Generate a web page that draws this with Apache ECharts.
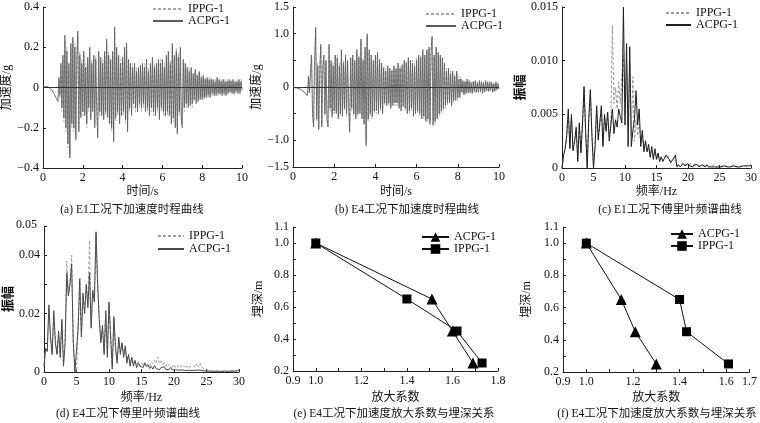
<!DOCTYPE html>
<html><head><meta charset="utf-8">
<script src="https://cdn.jsdelivr.net/npm/echarts@6/dist/echarts.min.js"></script>
<style>html,body{margin:0;padding:0;background:#fff}#c{width:760px;height:423px}</style>
</head><body><div id="c"></div>
<script>
// ---------- data ----------
const timeStep = 0.05;   // s
const freqStep = 0.25;   // Hz
const seriesNames = ['IPPG-1', 'ACPG-1'];

// (a) E1 acceleration time history (g)
const E1_ACPG = [0,0.003,0.005,0.006,0.005,0.003,0.001,-0.002,-0.006,-0.012,-0.02,-0.03,-0.04,-0.05,-0.06,
-0.07,0.05,-0.04,0.12,-0.1,
0.16,-0.15,0.26,-0.2,0.18,-0.28,0.12,-0.35,0.22,-0.18,
0.25,-0.2,0.2,-0.26,0.15,0.28,-0.22,0.16,-0.15,0.12,
-0.12,0.18,-0.14,0.1,-0.18,0.15,-0.1,0.2,-0.16,0.12,
-0.12,0.16,-0.2,0.14,-0.1,-0.25,0.18,-0.12,0.15,-0.14,
0.12,-0.16,0.18,-0.12,0.24,-0.15,0.16,-0.18,0.14,-0.2,
0.18,-0.27,0.3,-0.15,0.2,-0.12,0.16,-0.18,0.12,-0.14,
0.15,-0.12,0.2,-0.16,0.22,-0.22,0.14,-0.1,0.12,-0.14,
0.1,-0.08,0.12,-0.1,0.08,-0.12,0.1,-0.08,0.11,-0.1,
0.12,-0.08,0.1,-0.12,0.14,-0.1,0.08,-0.14,0.12,-0.1,
0.15,-0.12,0.1,-0.14,0.12,-0.1,0.14,-0.16,0.12,-0.1,
0.14,-0.12,0.1,-0.14,0.16,-0.12,0.18,-0.14,0.12,-0.18,
0.22,-0.15,0.16,-0.2,0.18,-0.23,0.15,-0.12,0.2,-0.16,
-0.2,0.14,-0.1,0.12,-0.08,0.1,-0.1,0.08,-0.09,0.1,
-0.08,0.07,-0.06,0.09,-0.08,0.06,-0.07,0.08,-0.06,0.05,
-0.06,0.06,-0.05,0.04,-0.05,0.05,-0.04,0.04,-0.05,0.04,
-0.03,0.04,-0.04,0.03,-0.04,0.05,-0.03,0.04,-0.03,0.03,
-0.04,0.04,-0.03,0.03,-0.04,0.03,-0.03,0.04,-0.02,0.03,
-0.03,0.04,-0.03,0.03,-0.02,0.03,-0.03,0.04,-0.03,0.03,-0.01];
const E1_IPPG = [0,0.002,0.004,0.005,0.004,0.002,0,-0.003,-0.007,-0.013,-0.021,-0.03,-0.038,-0.048,-0.055,
-0.065,0.04,-0.05,0.1,-0.12,
0.14,-0.17,0.24,-0.22,0.2,-0.3,0.1,-0.33,0.2,-0.2,
0.23,-0.22,0.22,-0.24,0.13,0.26,-0.2,0.18,-0.13,0.14,
-0.14,0.16,-0.12,0.12,-0.2,0.13,-0.12,0.18,-0.14,0.14,
-0.1,0.14,-0.18,0.16,-0.12,-0.23,0.16,-0.14,0.13,-0.12,
0.14,-0.14,0.16,-0.14,0.22,-0.13,0.18,-0.16,0.12,-0.22,
0.16,-0.25,0.28,-0.17,0.18,-0.14,0.14,-0.16,0.14,-0.12,
0.13,-0.14,0.18,-0.18,0.2,-0.2,0.12,-0.12,0.1,-0.12,
0.12,-0.1,0.1,-0.12,0.1,-0.1,0.08,-0.1,0.09,-0.12,
0.1,-0.1,0.12,-0.1,0.12,-0.12,0.1,-0.12,0.1,-0.12,
0.13,-0.14,0.12,-0.12,0.1,-0.12,0.12,-0.14,0.14,-0.12,
0.12,-0.14,0.12,-0.12,0.14,-0.14,0.16,-0.12,0.14,-0.16,
0.2,-0.17,0.14,-0.18,0.2,-0.21,0.17,-0.14,0.18,-0.18,
-0.18,0.12,-0.12,0.1,-0.1,0.08,-0.08,0.1,-0.07,0.08,
-0.1,0.06,-0.07,0.08,-0.06,0.07,-0.06,0.07,-0.05,0.06,
-0.05,0.05,-0.06,0.05,-0.04,0.04,-0.05,0.05,-0.04,0.05,
-0.04,0.03,-0.03,0.04,-0.03,0.04,-0.04,0.03,-0.04,0.04,
-0.03,0.03,-0.04,0.04,-0.03,0.04,-0.02,0.03,-0.03,0.04,
-0.02,0.03,-0.04,0.02,-0.03,0.04,-0.02,0.03,-0.02,0.04,-0.02];

// (b) E4 acceleration time history (g)
const E4_ACPG = [0,-0.01,-0.01,-0.02,-0.02,-0.03,-0.03,-0.04,-0.05,-0.06,-0.08,-0.1,-0.12,-0.14,-0.16,
0.2,-0.1,0.3,0.6,-0.5,
-0.75,0.5,1.12,-0.6,0.4,-0.8,0.3,0.8,-0.75,0.4,
0.6,-0.5,0.5,-0.6,-0.75,0.8,-0.4,0.5,-0.55,0.4,
-0.45,0.6,-0.5,0.55,-0.6,0.4,-0.5,0.7,-0.55,0.45,
-0.4,0.6,-0.5,0.5,-0.3,-0.85,0.55,-0.4,0.6,-0.5,
0.5,-0.6,0.7,-0.5,0.55,-0.5,0.9,-0.6,0.5,-0.7,
0.75,-1.1,1.0,-0.6,0.7,-0.5,0.6,-0.55,0.5,-0.45,
0.6,-0.45,0.65,-0.5,0.5,-0.4,0.45,-0.5,0.35,-0.3,
0.3,-0.35,0.4,-0.3,0.35,-0.4,0.3,-0.35,0.4,-0.3,
0.35,-0.3,0.45,-0.4,0.35,-0.45,0.4,-0.35,0.5,-0.4,
0.45,-0.5,0.55,-0.45,0.5,-0.4,0.45,-0.55,0.4,-0.5,
0.5,-0.45,0.6,-0.5,0.55,-0.6,0.7,-0.55,0.6,-0.65,
0.7,-0.6,0.75,-0.7,0.65,0.95,-0.7,0.6,-0.65,0.75,
-0.6,0.65,-0.5,0.6,-0.45,0.55,-0.4,0.45,-0.35,0.3,
-0.3,0.35,-0.3,0.25,-0.35,0.3,-0.25,0.2,-0.25,0.3,
-0.2,0.15,-0.2,0.15,-0.1,0.12,-0.15,0.1,-0.12,0.15,
-0.1,0.12,-0.1,0.08,-0.12,0.1,-0.08,0.12,-0.1,0.08,
-0.1,0.12,-0.08,0.1,-0.12,0.08,-0.1,0.12,-0.07,0.1,
-0.08,0.1,-0.06,0.08,-0.1,0.06,-0.08,0.1,-0.05,0.06,-0.04];
const E4_IPPG = [0,-0.01,-0.02,-0.02,-0.03,-0.03,-0.04,-0.04,-0.05,-0.07,-0.09,-0.11,-0.13,-0.15,-0.17,
0.18,-0.12,0.28,0.55,-0.55,
-0.7,0.45,1.05,-0.65,0.45,-0.75,0.35,0.75,-0.7,0.45,
0.55,-0.55,0.45,-0.65,-0.7,0.75,-0.45,0.45,-0.6,0.45,
-0.5,0.55,-0.45,0.6,-0.55,0.45,-0.55,0.65,-0.5,0.5,
-0.45,0.55,-0.55,0.45,-0.35,-0.8,0.5,-0.45,0.55,-0.55,
0.45,-0.55,0.65,-0.55,0.6,-0.45,0.85,-0.55,0.55,-0.65,
0.7,-1.05,0.95,-0.65,0.65,-0.55,0.55,-0.6,0.45,-0.5,
0.55,-0.5,0.6,-0.45,0.55,-0.45,0.4,-0.45,0.4,-0.35,
0.35,-0.3,0.35,-0.35,0.3,-0.35,0.35,-0.3,0.35,-0.35,
0.3,-0.35,0.4,-0.35,0.4,-0.4,0.45,-0.4,0.45,-0.45,
0.5,-0.45,0.5,-0.5,0.45,-0.45,0.5,-0.5,0.45,-0.45,
0.55,-0.5,0.55,-0.55,0.6,-0.55,0.65,-0.6,0.55,-0.6,
0.65,-0.65,0.7,-0.65,0.7,0.9,-0.75,0.55,-0.7,0.7,
-0.55,0.6,-0.55,0.55,-0.5,0.5,-0.45,0.4,-0.4,0.35,
-0.35,0.3,-0.25,0.3,-0.3,0.25,-0.3,0.25,-0.2,0.25,
-0.25,0.2,-0.15,0.18,-0.12,0.1,-0.12,0.12,-0.1,0.12,
-0.12,0.1,-0.12,0.1,-0.1,0.12,-0.1,0.1,-0.12,0.1,
-0.08,0.1,-0.1,0.08,-0.1,0.1,-0.08,0.1,-0.09,0.08,
-0.1,0.08,-0.08,0.1,-0.08,0.08,-0.06,0.08,-0.07,0.08,-0.03];

// (c) E1 Fourier spectrum amplitude
const E1F_ACPG = [0,0.0012,0.0018,0.003,0.0055,0.0018,0.005,0.0016,0.0025,0.0038,
0.0006,0.0042,0.0014,0.004,0.0076,0.0035,0.0,0.0045,0.0073,0.003,
0.0,0.002,0.0058,0.0026,0.0042,0.0058,0.002,0.005,0.0034,0.0052,
0.0025,0.004,0.0055,0.0032,0.0045,0.0038,0.0055,0.0048,0.0042,0.015,
0.004,0.0116,0.002,0.0113,0.002,0.0035,0.0045,0.0072,0.004,0.0055,
0.002,0.0035,0.0015,0.0025,0.0015,0.0022,0.001,0.002,0.0008,0.0018,
0.0008,0.0014,0.0006,0.001,0.0006,0.0009,0.0012,0.0013,0.0008,0.0005,
0.0006,0.0009,0.0012,0.0001,0.0003,0.0001,0.0002,0.0004,0.0002,0.0003,
0.0004,0.0002,0.0003,0.0001,0.0003,0.0002,0.0003,0.0001,0.0002,0.0003,
0.0002,0.0001,0.0003,0.0001,0.0002,0.0001,0.0002,0.0001,0.0002,0.0001,
0.0002,0.0001,0.0001,0.0002,0.0001,0.0001,0.0002,0.0001,0.0001,0.0002,
0.0001,0.0001,0.0002,0.0001,0.0001,0.0002,0.0001,0.0002,0.0001,0.0002,
0.0003];
const E1F_IPPG = [0,0.0011,0.0017,0.0032,0.0052,0.002,0.0048,0.0017,0.0024,0.0036,
0.0008,0.004,0.0015,0.0042,0.0074,0.0033,0.0002,0.0047,0.007,0.0032,
0.0002,0.0022,0.0055,0.0028,0.004,0.0056,0.0022,0.0048,0.0036,0.005,
0.0028,0.0042,0.0133,0.006,0.0075,0.0055,0.008,0.006,0.0085,0.0105,
0.005,0.0095,0.004,0.0098,0.003,0.0085,0.0025,0.0045,0.003,0.004,
0.0025,0.0032,0.0018,0.0026,0.0016,0.0018,0.0012,0.0016,0.001,0.0015,
0.0009,0.0012,0.0008,0.0011,0.0007,0.001,0.0011,0.0012,0.0009,0.0006,
0.0007,0.001,0.0011,0.0003,0.0004,0.0002,0.0003,0.0005,0.0003,0.0004,
0.0003,0.0003,0.0004,0.0002,0.0003,0.0003,0.0002,0.0002,0.0003,0.0002,
0.0003,0.0002,0.0002,0.0002,0.0003,0.0001,0.0003,0.0002,0.0001,0.0002,
0.0001,0.0002,0.0002,0.0001,0.0002,0.0002,0.0001,0.0002,0.0002,0.0001,
0.0002,0.0002,0.0001,0.0002,0.0002,0.0001,0.0002,0.0001,0.0002,0.0002,
0.0002];

// (d) E4 Fourier spectrum amplitude
const E4F_ACPG = [0.002,0.008,0.007,0.023,0.012,0.006,0.021,0.01,0.006,0.014,
0.005,0.018,0.002,0.01,0.034,0.026,0.03,0.037,0.01,0.0,
0.0,0.015,0.032,0.012,0.027,0.02,0.03,0.022,0.034,0.015,
0.028,0.024,0.048,0.03,0.018,0.01,0.016,0.006,0.021,0.005,
0.024,0.012,0.001,0.019,0.008,0.003,0.012,0.006,0.01,0.005,
0.009,0.003,0.006,0.002,0.005,0.002,0.004,0.0015,0.003,0.002,
0.0025,0.0015,0.003,0.0018,0.0025,0.0012,0.002,0.001,0.0022,0.0012,
0.0018,0.0008,0.0015,0.001,0.0018,0.0008,0.0014,0.0009,0.0016,0.0007,
0.0013,0.0008,0.0012,0.0006,0.0012,0.0007,0.001,0.0005,0.0011,0.0006,
0.0009,0.0005,0.001,0.0006,0.0012,0.0007,0.0009,0.0005,0.0008,0.0004,
0.0006,0.0003,0.0005,0.0003,0.0005,0.0002,0.0004,0.0003,0.0005,0.0002,
0.0004,0.0003,0.0004,0.0002,0.0004,0.0003,0.0005,0.0003,0.0006,0.0004,
0.0008];
const E4F_IPPG = [0.002,0.0085,0.007,0.022,0.011,0.0065,0.02,0.011,0.006,0.013,
0.005,0.017,0.003,0.011,0.038,0.027,0.031,0.04,0.011,0.001,
0.0,0.016,0.031,0.013,0.026,0.021,0.029,0.024,0.045,0.017,
0.027,0.025,0.047,0.031,0.019,0.011,0.015,0.007,0.02,0.006,
0.023,0.013,0.002,0.018,0.009,0.004,0.011,0.007,0.01,0.006,
0.008,0.004,0.006,0.003,0.005,0.003,0.004,0.0025,0.0035,0.002,
0.003,0.002,0.0035,0.0025,0.003,0.002,0.0035,0.0028,0.004,0.003,
0.0052,0.003,0.0038,0.0025,0.0032,0.002,0.003,0.0022,0.0028,0.0018,
0.0026,0.0016,0.0024,0.0015,0.0022,0.0014,0.0021,0.0013,0.002,0.0012,
0.0019,0.0014,0.0022,0.0015,0.0028,0.0018,0.0032,0.0016,0.0014,0.0008,
0.0007,0.0004,0.0006,0.0003,0.0005,0.0003,0.0004,0.0003,0.0005,0.0002,
0.0004,0.0003,0.0004,0.0002,0.0004,0.0003,0.0005,0.0003,0.0005,0.0004,
0.0007];

// (e),(f) amplification factor vs burial depth
const depths = [1.0, 0.65, 0.45, 0.25];           // m
const ampE_ACPG = [1.0, 1.51, 1.60, 1.69];
const ampE_IPPG = [1.0, 1.40, 1.62, 1.73];
const ampF_ACPG = [1.0, 1.15, 1.21, 1.30];
const ampF_IPPG = [1.0, 1.40, 1.43, 1.61];

const captions = ['(a) E1工况下加速度时程曲线','(b) E4工况下加速度时程曲线','(c) E1工况下傅里叶频谱曲线',
                  '(d) E4工况下傅里叶频谱曲线','(e) E4工况下加速度放大系数与埋深关系','(f) E4工况下加速度放大系数与埋深关系'];
const xNames = ['时间/s','时间/s','频率/Hz','频率/Hz','放大系数','放大系数'];
const yNames = ['加速度/g','加速度/g','振幅','振幅','埋深/m','埋深/m'];
const specDTopLabel = '0.05';

// ---------- chart ----------
const SERIF = "'Liberation Serif','Noto Sans CJK SC',serif";
const minus = s => String(s).replace('-', '\u2212');
const toPairs = (arr, step) => arr.map((v, i) => [+(i * step).toFixed(2), v]);
const toXY = (xs, ys) => xs.map((x, i) => [x, ys[i]]);

const grids = [
  {left:43, top:7, width:199, height:161},
  {left:293, top:7, width:206, height:160},
  {left:562, top:7, width:190, height:161},
  {left:44, top:226, width:195, height:146},
  {left:293, top:227, width:205, height:144},
  {left:563, top:227, width:189, height:145}
];

function lbl(fmt) {
  const o = {color:'#111', fontFamily:SERIF, fontSize:12, margin:4, showMinLabel:true, showMaxLabel:true, hideOverlap:false};
  if (fmt) o.formatter = fmt;
  return o;
}
function axisBase(idx, isX, extra) {
  return Object.assign({
    type:'value', gridIndex: idx,
    axisLine:{show:true, onZero:false, lineStyle:{color:'#222', width:1}},
    axisTick:{show:true, inside:true, length:3, lineStyle:{color:'#222'}},
    axisLabel: lbl(null),
    splitLine:{show:false},
    name: isX ? xNames[idx] : yNames[idx],
    nameLocation:'middle',
    nameTextStyle:{color:'#111', fontFamily:SERIF, fontSize:12}
  }, extra);
}

const xAxes = [
  axisBase(0, true, {min:0, max:10, interval:2, nameGap:18}),
  axisBase(1, true, {min:0, max:10, interval:2, nameGap:19}),
  axisBase(2, true, {min:0, max:30, interval:5, nameGap:18}),
  axisBase(3, true, {min:0, max:30, interval:5, nameGap:20}),
  axisBase(4, true, {min:0.9, max:1.8, interval:0.1, nameGap:21,
    axisLabel: lbl(v => { const r = Math.round(v*10); return (r===9 || r%2===0) ? (r/10).toFixed(1) : ''; })}),
  axisBase(5, true, {min:0.9, max:1.7, interval:0.1, nameGap:20,
    axisLabel: lbl(v => { const r = Math.round(v*10); return (r===9 || r===17 || r%2===0) ? (r/10).toFixed(1) : ''; })})
];
const depthFmt = v => { const r = Math.round(v*10); return (r===11 || r%2===0) ? (r/10).toFixed(1) : ''; };
const specFmtD = v => {
  const r = Math.round(v*1000);
  if (r === 0) return '0';
  if (r === 20) return '0.02';
  if (r === 40) return '0.04';
  return '';
};
const yAxes = [
  axisBase(0, false, {min:-0.4, max:0.4, interval:0.2, nameGap:29,
    axisLabel: lbl(v => Math.abs(v) < 1e-9 ? '0' : minus(v.toFixed(1)))}),
  axisBase(1, false, {min:-1.5, max:1.5, interval:0.5, nameGap:28,
    axisLabel: lbl(v => { if (Math.abs(v) < 1e-9) return '0'; if (Math.abs(Math.abs(v)-0.5)<1e-6) return ''; return minus(v.toFixed(1)); })}),
  axisBase(2, false, {min:0, max:0.015, interval:0.005, nameGap:33,
    nameTextStyle:{color:'#111', fontFamily:SERIF, fontSize:13, fontWeight:'bold'},
    axisLabel: lbl(v => Math.abs(v) < 1e-9 ? '0' : v.toFixed(3))}),
  axisBase(3, false, {min:0, max:0.05, interval:0.01, nameGap:29,
    nameTextStyle:{color:'#111', fontFamily:SERIF, fontSize:13, fontWeight:'bold'},
    axisLabel: lbl(specFmtD)}),
  axisBase(4, false, {min:0.2, max:1.1, interval:0.1, nameGap:28, axisLabel: lbl(depthFmt)}),
  axisBase(5, false, {min:0.2, max:1.1, interval:0.1, nameGap:30, axisLabel: lbl(depthFmt)})
];

function lineSeries(key, label, idx, data, color, dashed, width) {
  return {
    type:'line', name: key + '|' + label, xAxisIndex: idx, yAxisIndex: idx, data: data,
    symbol:'none', showSymbol:false, animation:false, silent:true,
    lineStyle:{color: color, width: width || 0.8, type: dashed ? [3,2] : 'solid'},
    itemStyle:{color: color}
  };
}
const zeroLine = {silent:true, symbol:'none', label:{show:false}, animation:false,
  lineStyle:{color:'#333', width:1, type:'solid'}, data:[{yAxis:0}]};

const sA_I = lineSeries('a', seriesNames[0], 0, toPairs(E1_IPPG, timeStep), '#a8a8a8', true);
const sA_A = lineSeries('a', seriesNames[1], 0, toPairs(E1_ACPG, timeStep), '#5a5a5a', false);
sA_I.markLine = zeroLine;
const sB_I = lineSeries('b', seriesNames[0], 1, toPairs(E4_IPPG, timeStep), '#a8a8a8', true);
const sB_A = lineSeries('b', seriesNames[1], 1, toPairs(E4_ACPG, timeStep), '#5a5a5a', false);
sB_I.markLine = zeroLine;
sA_I.z = 3; sB_I.z = 3;
const sC_I = lineSeries('c', seriesNames[0], 2, toPairs(E1F_IPPG, freqStep), '#999999', true, 1);
const sC_A = lineSeries('c', seriesNames[1], 2, toPairs(E1F_ACPG, freqStep), '#1e1e1e', false, 1);
const sD_I = lineSeries('d', seriesNames[0], 3, toPairs(E4F_IPPG, freqStep), '#a0a0a0', true, 1);
const sD_A = lineSeries('d', seriesNames[1], 3, toPairs(E4F_ACPG, freqStep), '#4a4a4a', false, 1);

function markerSeries(key, label, idx, xs, ys, sym, size) {
  return {
    type:'line', name: key + '|' + label, xAxisIndex: idx, yAxisIndex: idx, data: toXY(xs, ys),
    symbol: sym, symbolSize: size, showSymbol:true, animation:false, silent:true,
    lineStyle:{color:'#111', width:1}, itemStyle:{color:'#000'}
  };
}
const sE_A = markerSeries('e', seriesNames[1], 4, ampE_ACPG, depths, 'triangle', 11);
const sE_I = markerSeries('e', seriesNames[0], 4, ampE_IPPG, depths, 'rect', 9);
const sF_A = markerSeries('f', seriesNames[1], 5, ampF_ACPG, depths, 'triangle', 11);
const sF_I = markerSeries('f', seriesNames[0], 5, ampF_IPPG, depths, 'rect', 9);

function legend(key, order, left, top, w, gap, hideSymbol) {
  const l = {
    orient:'vertical', left: left, top: top, padding:0, itemGap: gap, itemWidth: w, itemHeight: 12,
    data: order.map(n => key + '|' + n), selectedMode:false,
    formatter: n => n.split('|')[1],
    textStyle:{color:'#111', fontFamily:SERIF, fontSize:12}
  };
  if (hideSymbol) l.itemStyle = {opacity:0};
  return l;
}
const legends = [
  legend('a', [seriesNames[0], seriesNames[1]], 152, 3, 30, 0, true),
  legend('b', [seriesNames[0], seriesNames[1]], 425, 8, 30, 0, true),
  legend('c', [seriesNames[0], seriesNames[1]], 665, 7, 25, 0, true),
  legend('d', [seriesNames[0], seriesNames[1]], 157, 230, 26, 1, true),
  legend('e', [seriesNames[1], seriesNames[0]], 421, 231, 27, 0, false),
  legend('f', [seriesNames[1], seriesNames[0]], 670, 228, 22, 0, false)
];

const captionPos = [[132,210],[407,210],[670,210],[128,414],[394,414],[657,414]];
const graphics = captions.map((t, i) => ({
  type:'text', x: captionPos[i][0], y: captionPos[i][1], silent:true,
  style:{text: t, fill:'#111', fontFamily: SERIF, fontSize: 11.5, align:'center', verticalAlign:'middle'}
}));
// top tick label of panel (d) sits at the top end of its y axis (= grid top)
graphics.push({
  type:'text', left: grids[3].left - 28, top: grids[3].top - 7, z: 100, silent:true,
  style:{text: specDTopLabel, fill:'#111', fontFamily: SERIF, fontSize: 12}
});

const chart = echarts.init(document.getElementById('c'), null, {renderer:'canvas'});
chart.setOption({
  backgroundColor:'#fff',
  animation:false,
  grid: grids,
  xAxis: xAxes,
  yAxis: yAxes,
  legend: legends,
  graphic: graphics,
  series: [sA_I, sA_A, sB_I, sB_A, sC_I, sC_A, sD_I, sD_A, sE_A, sE_I, sF_A, sF_I]
});
</script>
</body></html>
